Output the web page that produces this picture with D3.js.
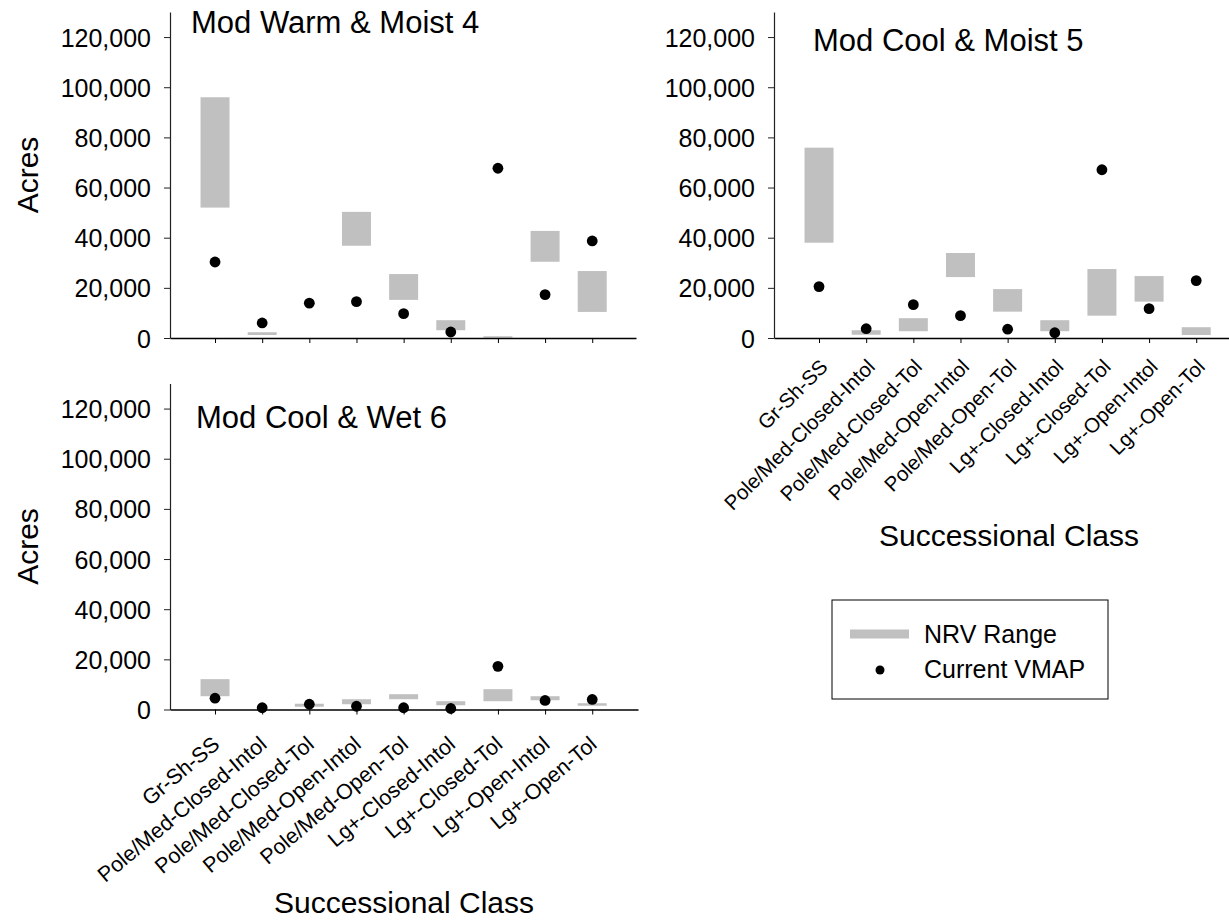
<!DOCTYPE html>
<html>
<head>
<meta charset="utf-8">
<script src="https://cdn.jsdelivr.net/npm/d3@7"></script>
<style>
  html, body { margin: 0; padding: 0; background: #fff; }
  svg { display: block; font-family: "Liberation Sans", Arial, sans-serif; }
</style>
</head>
<body>
<svg id="chart" width="1229" height="921"></svg>
<script>
// Successional classes shown on every panel
const classes = [
  "Gr-Sh-SS", "Pole/Med-Closed-Intol", "Pole/Med-Closed-Tol",
  "Pole/Med-Open-Intol", "Pole/Med-Open-Tol", "Lg+-Closed-Intol",
  "Lg+-Closed-Tol", "Lg+-Open-Intol", "Lg+-Open-Tol"
];

// Mod Warm & Moist 4 (acres)
const warmMoistLow     = [52000, 1200, 0, 36800, 15200, 3100, 100, 30400, 10400];
const warmMoistHigh    = [96000, 2300, 0, 50300, 25500, 7100, 700, 42700, 26700];
const warmMoistCurrent = [30300, 6000, 13900, 14500, 9700, 2400, 67700, 17300, 38700];

// Mod Cool & Moist 5 (acres)
const coolMoistLow     = [38000, 1300, 2700, 24300, 10500, 2700, 8900, 14500, 1200];
const coolMoistHigh    = [75900, 3100, 7900, 33900, 19500, 7100, 27500, 24700, 4300];
const coolMoistCurrent = [20500, 3700, 13300, 8900, 3500, 2100, 67100, 11700, 22900];

// Mod Cool & Wet 6 (acres)
const coolWetLow     = [5300, 0, 1100, 2100, 4100, 1700, 3300, 3700, 1500];
const coolWetHigh    = [12100, 0, 2300, 4100, 6100, 3300, 8100, 5300, 2500];
const coolWetCurrent = [4500, 700, 2100, 1300, 700, 400, 17200, 3600, 4000];

const yTicks = [0, 20000, 40000, 60000, 80000, 100000, 120000];
const legendLabels = ["NRV Range", "Current VMAP"];

const rangeColor = "#c0c0c0";
const font = "'Liberation Sans', Arial, sans-serif";

const svg = d3.select("#chart");

const panels = [
  { title: "Mod Warm & Moist 4", low: warmMoistLow, high: warmMoistHigh, cur: warmMoistCurrent,
    ax: 170, top: 12, bottom: 338, titleX: 191, titleY: 33, yTitle: true, xEnd: 636,
    labels: null },
  { title: "Mod Cool & Moist 5", low: coolMoistLow, high: coolMoistHigh, cur: coolMoistCurrent,
    ax: 774, top: 12, bottom: 338, titleX: 813, titleY: 51, yTitle: false, xEnd: 1240,
    labels: { dx: 10, dy: 30, angle: -45, size: 20.5 } },
  { title: "Mod Cool & Wet 6", low: coolWetLow, high: coolWetHigh, cur: coolWetCurrent,
    ax: 170, top: 383.5, bottom: 709.5, titleX: 196, titleY: 428, yTitle: true, xEnd: 638,
    labels: { dx: 6, dy: 37, angle: -40, size: 21.5 } }
];

panels.forEach(p => {
  const g = svg.append("g");
  const idx = d3.range(classes.length);

  const step = 47.15;
  const x = d3.scaleLinear()
    .domain([0.045, 0.045 + (p.xEnd - p.ax) / step])
    .range([p.ax, p.xEnd]);
  const y = d3.scaleLinear().domain([0, 130000]).range([p.bottom, p.top]);
  const barW = 0.615; // in category units

  // NRV range bars
  g.append("g").selectAll("rect")
    .data(idx)
    .join("rect")
    .attr("x", i => x(i + 1 - barW / 2))
    .attr("width", i => x(i + 1 + barW / 2) - x(i + 1 - barW / 2))
    .attr("y", i => y(p.high[i]))
    .attr("height", i => y(p.low[i]) - y(p.high[i]))
    .attr("fill", rangeColor);

  // y axis
  const yAxis = d3.axisLeft(y)
    .tickValues(yTicks)
    .tickFormat(d3.format(","))
    .tickSize(6)
    .tickSizeOuter(0)
    .tickPadding(13);
  const ya = g.append("g").attr("transform", `translate(${p.ax},0)`).call(yAxis);
  ya.select(".domain").attr("stroke", "#222").attr("stroke-width", 1.2);
  ya.selectAll(".tick line").attr("stroke", "#222");
  ya.selectAll(".tick text")
    .attr("font-family", font).attr("font-size", 25).attr("fill", "#000")
    .attr("dy", "0.36em");

  // x axis
  const xAxis = d3.axisBottom(x)
    .tickValues(idx.map(i => i + 1))
    .tickFormat("")
    .tickSize(5)
    .tickSizeOuter(0);
  const xa = g.append("g").attr("transform", `translate(0,${p.bottom})`).call(xAxis);
  xa.select(".domain").attr("stroke", "#000").attr("stroke-width", 1.6);
  xa.selectAll(".tick line").attr("stroke", "#000");

  if (p.labels) {
    const L = p.labels;
    g.append("g").selectAll("text")
      .data(idx)
      .join("text")
      .attr("transform", i => `translate(${x(i + 1) + L.dx},${p.bottom + L.dy}) rotate(${L.angle})`)
      .attr("text-anchor", "end")
      .attr("font-family", font)
      .attr("font-size", L.size)
      .attr("fill", "#000")
      .text(i => classes[i]);
  }

  // current VMAP points
  g.append("g").selectAll("circle")
    .data(idx)
    .join("circle")
    .attr("cx", i => x(i + 1))
    .attr("cy", i => y(p.cur[i]))
    .attr("r", 5.4)
    .attr("fill", "#000");

  // panel title
  g.append("text")
    .attr("x", p.titleX).attr("y", p.titleY)
    .attr("font-family", font).attr("font-size", 31).attr("fill", "#000")
    .text(p.title);

  if (p.yTitle) {
    g.append("text")
      .attr("transform", `translate(38,${(p.top + p.bottom) / 2}) rotate(-90)`)
      .attr("text-anchor", "middle")
      .attr("font-family", font).attr("font-size", 30).attr("fill", "#000")
      .text("Acres");
  }
});

// x axis titles
svg.append("text")
  .attr("x", 1009).attr("y", 546)
  .attr("text-anchor", "middle")
  .attr("font-family", font).attr("font-size", 30).attr("fill", "#000")
  .text("Successional Class");
svg.append("text")
  .attr("x", 404).attr("y", 913)
  .attr("text-anchor", "middle")
  .attr("font-family", font).attr("font-size", 30).attr("fill", "#000")
  .text("Successional Class");

// legend
const lg = svg.append("g");
lg.append("rect")
  .attr("x", 832).attr("y", 600).attr("width", 276).attr("height", 99)
  .attr("fill", "#fff").attr("stroke", "#000").attr("stroke-width", 1);
lg.append("line")
  .attr("x1", 850).attr("x2", 909).attr("y1", 634).attr("y2", 634)
  .attr("stroke", rangeColor).attr("stroke-width", 9);
lg.append("circle")
  .attr("cx", 880).attr("cy", 670).attr("r", 4.5).attr("fill", "#000");
lg.selectAll("text.lbl")
  .data(legendLabels)
  .join("text")
  .attr("class", "lbl")
  .attr("x", 924)
  .attr("y", (d, i) => 643 + i * 35)
  .attr("font-family", font).attr("font-size", 25).attr("fill", "#000")
  .text(d => d);
</script>
</body>
</html>
